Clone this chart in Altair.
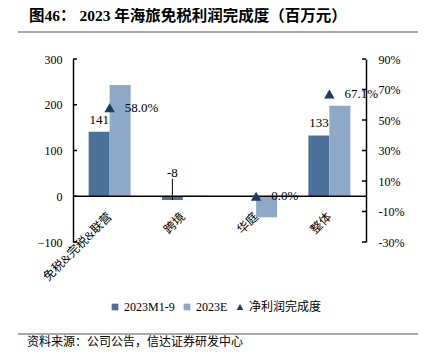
import altair as alt
import pandas as pd

categories = ["免税&完税&联营", "跨境", "华庭", "整体"]
series_names = ["2023M1-9", "2023E"]
profit_m1_9 = [141, -8, 0, 133]
profit_2023e = [243, 1, -46, 198]
completion_pct = [58.0, None, 0.0, 67.1]
legend_names = ["2023M1-9", "2023E", "净利润完成度"]
left_ticks = [-100, 0, 100, 200, 300]
right_ticks = [-30, -10, 10, 30, 50, 70, 90]
title_text = "图46： 2023 年海旅免税利润完成度（百万元）"
source_text = "资料来源：公司公告，信达证券研发中心"

colors = ["#4B7099", "#8EA9C8", "#1F3A68"]
FONT = "Liberation Serif, Noto Sans CJK SC"

rows = []
for i, c in enumerate(categories):
    rows.append({"category": c, "series": series_names[0], "value": profit_m1_9[i]})
    rows.append({"category": c, "series": series_names[1], "value": profit_2023e[i]})
bars_df = pd.DataFrame(rows)

pct_rows = []
for i, c in enumerate(categories):
    if completion_pct[i] is not None:
        pct_rows.append({"category": c, "series": legend_names[2], "pct": completion_pct[i],
                         "label": f"{completion_pct[i]:.1f}%"})
pct_df = pd.DataFrame(pct_rows)

dark_df = bars_df[(bars_df.series == series_names[0]) & (bars_df.value != 0)].copy()
dark_df["label"] = dark_df["value"].astype(str)
pos_df = dark_df[dark_df.value > 0]
neg_df = dark_df[dark_df.value < 0]

xcat = alt.X("category:N", sort=categories,
             scale=alt.Scale(paddingInner=0.427, paddingOuter=0.2135),
             axis=alt.Axis(title=None, labelAngle=-45, labelAlign="right", labelBaseline="middle",
                           domain=False, ticks=False, offset=-45.75, labelFont=FONT,
                           labelFontSize=12, labelColor="black", labelPadding=18))
xoff = alt.XOffset("series:N", sort=series_names,
                   scale=alt.Scale(domain=series_names, paddingInner=0, paddingOuter=0))
yleft = alt.Y("value:Q", scale=alt.Scale(domain=[-100, 300], nice=False),
              axis=alt.Axis(values=left_ticks, title=None, ticks=False, grid=False,
                            domainColor="black", domainWidth=1.5, labelPadding=11,
                            labelFont=FONT, labelFontSize=12, labelColor="black"))
ypct = alt.Y("pct:Q", scale=alt.Scale(domain=[-30, 90], nice=False),
             axis=alt.Axis(orient="right", values=right_ticks, labelExpr="datum.value + '%'",
                           title=None, ticks=False, grid=False, domainColor="black",
                           domainWidth=1.5, labelPadding=12, labelFont=FONT, labelFontSize=12,
                           labelColor="black"))
color = alt.Color("series:N", scale=alt.Scale(domain=legend_names, range=colors), title=None)

bars = alt.Chart(bars_df).mark_bar().encode(x=xcat, xOffset=xoff, y=yleft, color=color)

bar_labels = alt.Chart(pos_df).mark_text(baseline="bottom", dy=-5, fontSize=13, font=FONT,
                                          color="black").encode(
    x=xcat, xOffset=xoff, y=yleft, text="label:N")

neg_label = alt.Chart(neg_df).mark_text(baseline="bottom", dy=-20, fontSize=13, font=FONT,
                                         color="black").encode(
    x=xcat, xOffset=xoff, y=yleft, text="label:N")

leader = alt.Chart(neg_df).mark_rule(color="black", strokeWidth=1).encode(
    x=xcat, xOffset=xoff, y=yleft, y2=alt.Y2(datum=38))

zero_rule = alt.Chart(pd.DataFrame({"value": [0]})).mark_rule(
    color="black", strokeWidth=1.5).encode(y=yleft)

left_tick_rules = alt.Chart(pd.DataFrame({"value": left_ticks})).mark_rule(
    color="black", strokeWidth=1.5).encode(y=yleft, x=alt.value(0), x2=alt.value(4))

line_top = alt.Chart(pd.DataFrame({"a": [0]})).mark_rule(color="#8c8c8c", strokeWidth=1.5).encode(
    x=alt.value(-55), x2=alt.value(353), y=alt.value(-27))
line_bottom = alt.Chart(pd.DataFrame({"a": [0]})).mark_rule(color="#8c8c8c", strokeWidth=1.5).encode(
    x=alt.value(-55), x2=alt.value(353), y=alt.value(275))

title = alt.Chart(pd.DataFrame({"t": [title_text]})).mark_text(
    align="left", baseline="middle", fontSize=15.5, fontWeight="bold", font=FONT,
    color="black").encode(text="t:N", x=alt.value(-44), y=alt.value(-43.5))

source = alt.Chart(pd.DataFrame({"t": [source_text]})).mark_text(
    align="left", baseline="alphabetic", fontSize=12, font=FONT, color="black").encode(
    text="t:N", x=alt.value(-46), y=alt.value(287))

left = alt.layer(bars, bar_labels, neg_label, leader, zero_rule, left_tick_rules,
                 line_top, line_bottom, title, source)

triangles = alt.Chart(pct_df).mark_point(filled=True, size=110, opacity=1).encode(
    x=xcat, y=ypct, color=color,
    shape=alt.Shape("series:N", scale=alt.Scale(domain=legend_names,
                                                range=["square", "square", "triangle-up"]),
                    title=None),
)

pct_labels = alt.Chart(pct_df).mark_text(align="left", baseline="middle", dx=15, fontSize=13,
                                          font=FONT, color="black").encode(
    x=xcat, y=ypct, text="label:N")

right_tick_rules = alt.Chart(pd.DataFrame({"pct": right_ticks})).mark_rule(
    color="black", strokeWidth=1.5).encode(y=ypct, x=alt.value(289), x2=alt.value(293))

right = alt.layer(triangles, pct_labels, right_tick_rules)

chart = alt.layer(left, right).resolve_scale(y="independent").properties(
    width=293, height=183,
    autosize=alt.AutoSizeParams(type="none"),
    padding={"left": 65, "top": 51, "right": 52, "bottom": 106},
).configure_view(stroke=None).configure_legend(
    orient="none", legendX=36, legendY=242, direction="horizontal",
    labelFont=FONT, labelFontSize=12, labelColor="black", symbolSize=45,
    columnPadding=6, labelOffset=3, title=None,
)

chart.save("out.html", embed_options={"renderer": "svg", "actions": False})
